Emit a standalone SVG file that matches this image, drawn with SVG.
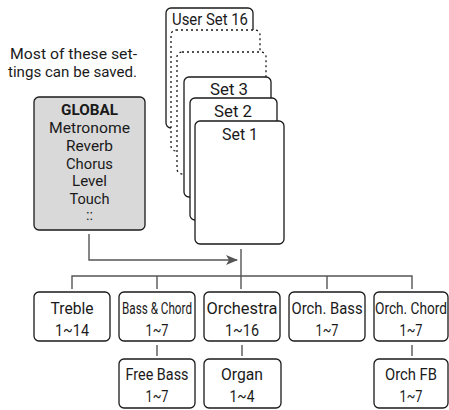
<svg xmlns="http://www.w3.org/2000/svg" width="449" height="410" viewBox="0 0 449 410">
<style>
text{font-family:Roboto,"Liberation Sans",sans-serif;fill:#1a1a1a;text-anchor:middle}
.box{fill:#fff;stroke:#1a1a1a;stroke-width:1.3}
.dot{fill:#fff;stroke:#1a1a1a;stroke-width:1.3;stroke-dasharray:2 3}
.glob{fill:#d9d9d9;stroke:#1a1a1a;stroke-width:1.3}
.ln{fill:none;stroke:#555;stroke-width:1.4}
.lbl{font-size:17px}
.g{font-size:14.5px}
.note{font-size:15px;text-anchor:end}
</style>
<defs>
<marker id="ah" markerWidth="12" markerHeight="10" refX="11" refY="5" orient="auto" markerUnits="userSpaceOnUse">
<path d="M0,0 L12,5 L0,10 L3,5 Z" fill="#555"/>
</marker>
</defs>
<text class="note" x="137" y="59" textLength="127" lengthAdjust="spacingAndGlyphs">Most of these set-</text>
<text class="note" x="137" y="77" textLength="129" lengthAdjust="spacingAndGlyphs">tings can be saved.</text>

<g id="stack">
<g id="userset16"><rect class="box" x="166" y="8" width="87" height="120" rx="5"/><text class="lbl" x="210" y="25" textLength="76" lengthAdjust="spacingAndGlyphs">User Set 16</text></g>
<g id="dotted1"><rect class="dot" x="171" y="30" width="89" height="121" rx="5"/></g>
<g id="dotted2"><rect class="dot" x="177" y="52" width="89" height="122" rx="5"/></g>
<g id="set3"><rect class="box" x="184" y="77" width="87" height="120" rx="5"/><text class="lbl" x="229" y="95" textLength="38" lengthAdjust="spacingAndGlyphs">Set 3</text></g>
<g id="set2"><rect class="box" x="190" y="98" width="87" height="122" rx="5"/><text class="lbl" x="233" y="117" textLength="38" lengthAdjust="spacingAndGlyphs">Set 2</text></g>
<g id="set1"><rect class="box" x="195" y="121" width="89" height="123" rx="5"/><text class="lbl" x="240" y="140" textLength="36" lengthAdjust="spacingAndGlyphs">Set 1</text></g>
</g>

<g id="global">
<rect class="glob" x="34" y="97" width="111" height="133" rx="5"/>
<text class="g" x="89.5" y="115" font-weight="bold" textLength="57" lengthAdjust="spacingAndGlyphs">GLOBAL</text>
<text class="g" x="89.5" y="133" textLength="81" lengthAdjust="spacingAndGlyphs">Metronome</text>
<text class="g" x="89.5" y="151" textLength="47" lengthAdjust="spacingAndGlyphs">Reverb</text>
<text class="g" x="89.5" y="168.5" textLength="47" lengthAdjust="spacingAndGlyphs">Chorus</text>
<text class="g" x="89.5" y="186" textLength="35" lengthAdjust="spacingAndGlyphs">Level</text>
<text class="g" x="89.5" y="203.5" textLength="40" lengthAdjust="spacingAndGlyphs">Touch</text>
<text class="g" x="89.5" y="220">::</text>
</g>

<g id="connectors">
<path class="ln" d="M89,234 V260 H237" marker-end="url(#ah)"/>
<path class="ln" d="M241,249 V289"/>
<path class="ln" d="M72,289 V276 H412 V289"/>
<path class="ln" d="M157,276 V289"/>
<path class="ln" d="M327,276 V289"/>
<path class="ln" d="M157,345 V356"/>
<path class="ln" d="M242,345 V356"/>
<path class="ln" d="M412,345 V356"/>
</g>

<g id="treble"><rect class="box" x="34" y="292" width="76" height="49" rx="5"/>
<text class="lbl" transform="translate(72 314) scale(0.75 1)" textLength="57.3" lengthAdjust="spacingAndGlyphs">Treble</text>
<text class="lbl" transform="translate(72 336) scale(0.75 1)" textLength="45.3" lengthAdjust="spacingAndGlyphs">1~14</text></g>
<g id="basschord"><rect class="box" x="119" y="292" width="76" height="49" rx="5"/>
<text class="lbl" transform="translate(157 314) scale(0.75 1)" textLength="93.3" lengthAdjust="spacingAndGlyphs">Bass &amp; Chord</text>
<text class="lbl" transform="translate(157 336) scale(0.75 1)" textLength="30.7" lengthAdjust="spacingAndGlyphs">1~7</text></g>
<g id="orchestra"><rect class="box" x="204" y="292" width="76" height="49" rx="5"/>
<text class="lbl" transform="translate(242 314) scale(0.75 1)" textLength="94.7" lengthAdjust="spacingAndGlyphs">Orchestra</text>
<text class="lbl" transform="translate(242 336) scale(0.75 1)" textLength="45.3" lengthAdjust="spacingAndGlyphs">1~16</text></g>
<g id="orchbass"><rect class="box" x="289" y="292" width="76" height="49" rx="5"/>
<text class="lbl" transform="translate(327 314) scale(0.75 1)" textLength="94.7" lengthAdjust="spacingAndGlyphs">Orch. Bass</text>
<text class="lbl" transform="translate(327 336) scale(0.75 1)" textLength="30.7" lengthAdjust="spacingAndGlyphs">1~7</text></g>
<g id="orchchord"><rect class="box" x="374" y="292" width="74" height="49" rx="5"/>
<text class="lbl" transform="translate(411 314) scale(0.75 1)" textLength="96" lengthAdjust="spacingAndGlyphs">Orch. Chord</text>
<text class="lbl" transform="translate(411 336) scale(0.75 1)" textLength="30.7" lengthAdjust="spacingAndGlyphs">1~7</text></g>
<g id="freebass"><rect class="box" x="119" y="359" width="76" height="49" rx="5"/>
<text class="lbl" transform="translate(157 380) scale(0.75 1)" textLength="84" lengthAdjust="spacingAndGlyphs">Free Bass</text>
<text class="lbl" transform="translate(157 402) scale(0.75 1)" textLength="30.7" lengthAdjust="spacingAndGlyphs">1~7</text></g>
<g id="organ"><rect class="box" x="204" y="359" width="77" height="49" rx="5"/>
<text class="lbl" transform="translate(242 380) scale(0.75 1)" textLength="56" lengthAdjust="spacingAndGlyphs">Organ</text>
<text class="lbl" transform="translate(242 402) scale(0.75 1)" textLength="33.3" lengthAdjust="spacingAndGlyphs">1~4</text></g>
<g id="orchfb"><rect class="box" x="374" y="359" width="74" height="49" rx="5"/>
<text class="lbl" transform="translate(411 380) scale(0.75 1)" textLength="69.3" lengthAdjust="spacingAndGlyphs">Orch FB</text>
<text class="lbl" transform="translate(411 402) scale(0.75 1)" textLength="30.7" lengthAdjust="spacingAndGlyphs">1~7</text></g>
</svg>
